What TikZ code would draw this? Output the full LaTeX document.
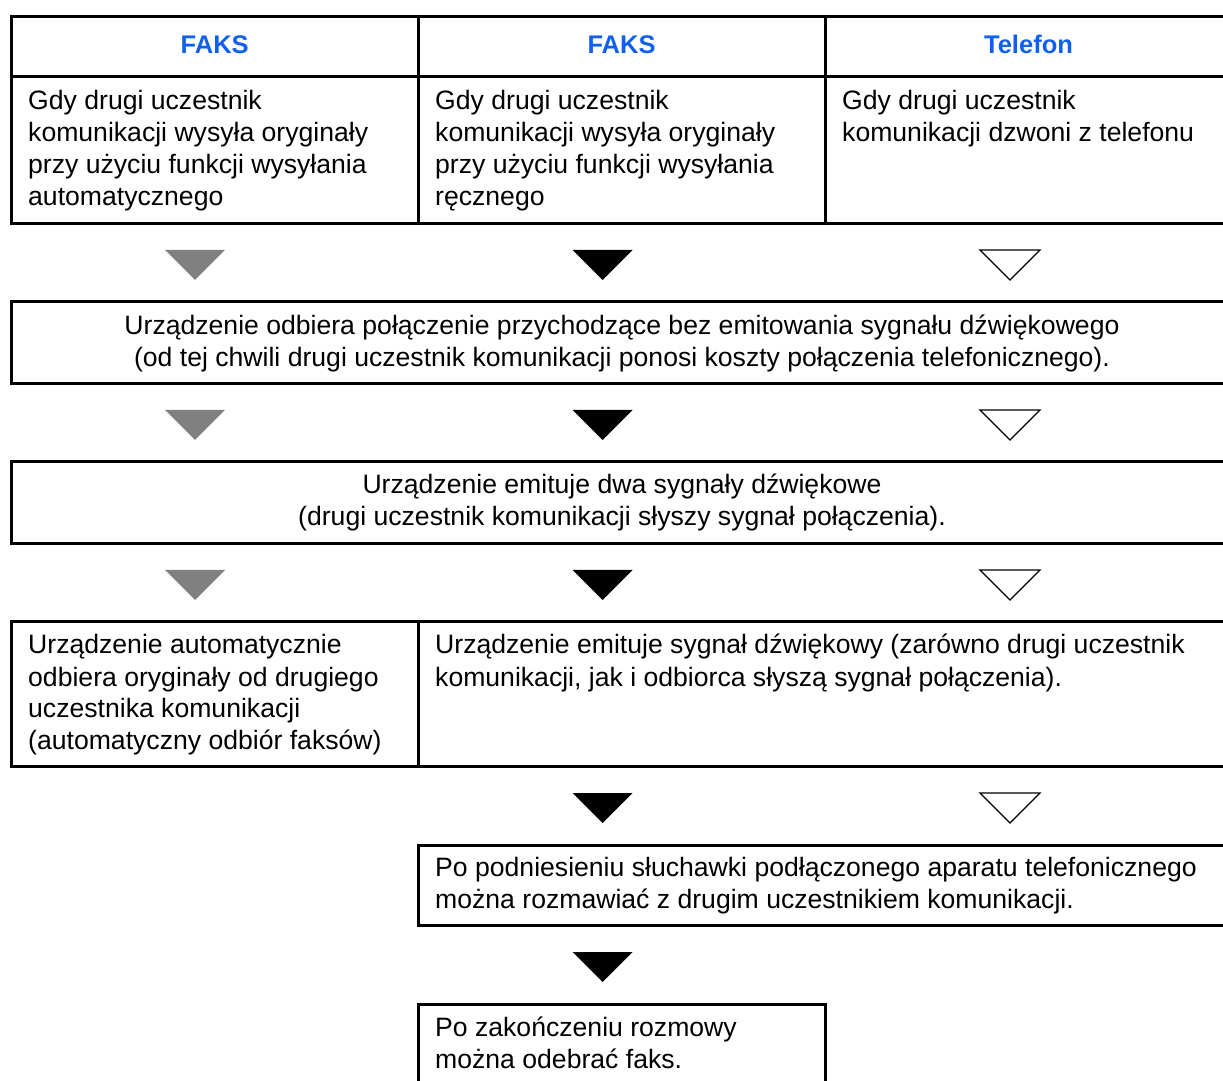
\documentclass[tikz,border=0pt]{standalone}
\usepackage{fontspec}
\setmainfont{Liberation Sans}
\definecolor{hdrblue}{RGB}{16,96,240}
\definecolor{trigray}{RGB}{128,128,128}
\newcommand\mlinesL[1]{\vtop{\baselineskip=32pt\lineskiplimit=-100pt\halign{##\hfil\cr#1\crcr}}}
\newcommand\mlinesC[1]{\vtop{\baselineskip=32pt\lineskiplimit=-100pt\halign{\hfil##\hfil\cr#1\crcr}}}
\begin{document}
\begin{tikzpicture}[x=1pt,y=1pt,
  frame/.style={draw=black,line width=3pt},
  body/.style={inner sep=0pt,font=\fontsize{26.6}{32}\selectfont},
  hdr/.style={inner sep=0pt,anchor=base,text=hdrblue,font=\fontsize{25.5}{30}\selectfont\bfseries},
  downtri/.pic={\path[pic actions] (-30,0) -- (30,0) -- (0,-30) -- cycle;},
  gtri/.style={fill=trigray},
  btri/.style={fill=black},
  wtri/.style={draw=black,line width=1.1pt,fill=white,line join=miter}]
\useasboundingbox (0,0) rectangle (1223,1080);
\fill[white] (0,0) rectangle (1223,1080);

% box 1 (table)
\draw[frame] (11.5,1063.5) rectangle (1232,856.5);
\draw[frame] (11.5,1003.5) -- (1232,1003.5);
\draw[frame] (418,1063.5) -- (418,856.5);
\draw[frame] (825,1063.5) -- (825,856.5);
\node[hdr] (h1) at (214.75,1026) {FAKS};
\node[hdr] (h2) at (621.5,1026) {FAKS};
\node[hdr] (h3) at (1028.5,1026) {Telefon};
\node[body,anchor=base west] (t1a) at (28,970) {\mlinesL{Gdy drugi uczestnik\cr komunikacji wysyła oryginały\cr przy użyciu funkcji wysyłania\cr automatycznego}};
\node[body,anchor=base west] (t1b) at (435,970) {\mlinesL{Gdy drugi uczestnik\cr komunikacji wysyła oryginały\cr przy użyciu funkcji wysyłania\cr ręcznego}};
\node[body,anchor=base west] (t1c) at (842,970) {\mlinesL{Gdy drugi uczestnik\cr komunikacji dzwoni z telefonu}};

% row 1 triangles
\pic[gtri] at (195,830) {downtri};
\pic[btri] at (602.5,830) {downtri};
\pic[wtri] at (1010,830) {downtri};

% box 2
\draw[frame] (11.5,778) rectangle (1232,696.5);
\node[body,anchor=base] (t2) at (622,745) {\mlinesC{Urządzenie odbiera połączenie przychodzące bez emitowania sygnału dźwiękowego\cr (od tej chwili drugi uczestnik komunikacji ponosi koszty połączenia telefonicznego).}};

% row 2 triangles
\pic[gtri] at (195,670) {downtri};
\pic[btri] at (602.5,670) {downtri};
\pic[wtri] at (1010,670) {downtri};

% box 3
\draw[frame] (11.5,618) rectangle (1232,536.5);
\node[body,anchor=base] (t3) at (622,586) {\mlinesC{Urządzenie emituje dwa sygnały dźwiękowe\cr (drugi uczestnik komunikacji słyszy sygnał połączenia).}};

% row 3 triangles
\pic[gtri] at (195,510) {downtri};
\pic[btri] at (602.5,510) {downtri};
\pic[wtri] at (1010,510) {downtri};

% box 4
\draw[frame] (11.5,458.5) rectangle (1232,313.5);
\draw[frame] (418,458.5) -- (418,313.5);
\node[body,anchor=base west] (t4a) at (28,426) {\mlinesL{Urządzenie automatycznie\cr odbiera oryginały od drugiego\cr uczestnika komunikacji\cr (automatyczny odbiór faksów)}};
\node[body,anchor=base west] (t4b) at (435,426) {\mlinesL{Urządzenie emituje sygnał dźwiękowy (zarówno drugi uczestnik\cr komunikacji, jak i odbiorca słyszą sygnał połączenia).}};

% row 4 triangles
\pic[btri] at (602.5,287) {downtri};
\pic[wtri] at (1010,287) {downtri};

% box 5
\draw[frame] (418,235) rectangle (1240,155);
\node[body,anchor=base west] (t5) at (435,204) {\mlinesL{Po podniesieniu słuchawki podłączonego aparatu telefonicznego\cr można rozmawiać z drugim uczestnikiem komunikacji.}};

% row 5 triangle
\pic[btri] at (602.5,128) {downtri};

% box 6
\draw[frame] (418,-10) -- (418,76) -- (825,76) -- (825,-10);
\node[body,anchor=base west] (t6) at (435,44) {\mlinesL{Po zakończeniu rozmowy\cr można odebrać faks.}};
\end{tikzpicture}
\end{document}
